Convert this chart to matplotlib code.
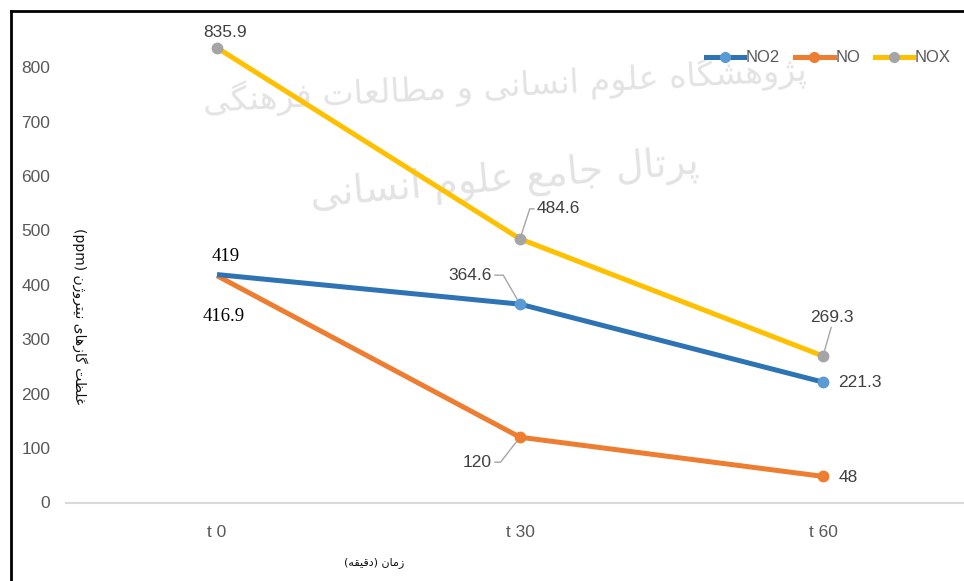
import matplotlib
matplotlib.use("Agg")
import matplotlib.pyplot as plt
from matplotlib import font_manager
from matplotlib.lines import Line2D

# ---------------- data ----------------
categories = ["t 0", "t 30", "t 60"]
no2 = [419, 364.6, 221.3]
no = [416.9, 120, 48]
nox = [835.9, 484.6, 269.3]
series_names = ["NO2", "NO", "NOX"]
y_ticks = [0, 100, 200, 300, 400, 500, 600, 700, 800]
ylabel_fa = "غلظت گازهای نیتروژن"
xlabel_fa = "زمان"
xlabel_unit_fa = "دقیقه"
watermark1 = "پژوهشگاه علوم انسانی و مطالعات فرهنگی"
watermark2 = "پرتال جامع علوم انسانی"

# ------------- simple Persian shaping (presentation forms) -------------
FORMS = {
    "ا": (0xFE8D, 0xFE8E, None, None),
    "پ": (0xFB56, 0xFB57, 0xFB58, 0xFB59),
    "ت": (0xFE95, 0xFE96, 0xFE97, 0xFE98),
    "ج": (0xFE9D, 0xFE9E, 0xFE9F, 0xFEA0),
    "د": (0xFEA9, 0xFEAA, None, None),
    "ر": (0xFEAD, 0xFEAE, None, None),
    "ز": (0xFEAF, 0xFEB0, None, None),
    "ژ": (0xFB8A, 0xFB8B, None, None),
    "س": (0xFEB1, 0xFEB2, 0xFEB3, 0xFEB4),
    "ش": (0xFEB5, 0xFEB6, 0xFEB7, 0xFEB8),
    "ط": (0xFEC1, 0xFEC2, 0xFEC3, 0xFEC4),
    "ظ": (0xFEC5, 0xFEC6, 0xFEC7, 0xFEC8),
    "ع": (0xFEC9, 0xFECA, 0xFECB, 0xFECC),
    "غ": (0xFECD, 0xFECE, 0xFECF, 0xFED0),
    "ف": (0xFED1, 0xFED2, 0xFED3, 0xFED4),
    "ق": (0xFED5, 0xFED6, 0xFED7, 0xFED8),
    "گ": (0xFB92, 0xFB93, 0xFB94, 0xFB95),
    "ل": (0xFEDD, 0xFEDE, 0xFEDF, 0xFEE0),
    "م": (0xFEE1, 0xFEE2, 0xFEE3, 0xFEE4),
    "ن": (0xFEE5, 0xFEE6, 0xFEE7, 0xFEE8),
    "ه": (0xFEE9, 0xFEEA, 0xFEEB, 0xFEEC),
    "و": (0xFEED, 0xFEEE, None, None),
    "ی": (0xFBFC, 0xFBFD, 0xFBFE, 0xFBFF),
}


def shape(text):
    out = []
    for i, ch in enumerate(text):
        if ch not in FORMS:
            out.append(ch)
            continue
        prev = text[i - 1] if i > 0 else ""
        nxt = text[i + 1] if i + 1 < len(text) else ""
        jp = prev in FORMS and FORMS[prev][2] is not None
        jn = FORMS[ch][2] is not None and nxt in FORMS
        iso, fin, ini, med = FORMS[ch]
        if jp and jn:
            cp = med
        elif jp:
            cp = fin
        elif jn:
            cp = ini
        else:
            cp = iso
        out.append(chr(cp))
    return "".join(out)


def vis(text):
    return shape(text)[::-1]


# ------------- fonts -------------
available = {f.name for f in font_manager.fontManager.ttflist}
sans = "Liberation Sans Narrow" if "Liberation Sans Narrow" in available else "Liberation Sans"
serif = "Liberation Serif"
plt.rcParams["font.family"] = [sans, "DejaVu Sans"]

W, H = 964, 581
fig = plt.figure(figsize=(W / 100, H / 100), dpi=100)


def fx(px):
    return px / W


def fy(py):
    return 1 - py / H


# axes: categories at x = 217, 520, 823 px ; 0 at y=502.5
ax = fig.add_axes([fx(65.5), fy(502.5), fx(974.5) - fx(65.5), (502.5 - 12.9) / H])
ax.set_xlim(-0.5, 2.5)
ax.set_ylim(0, 900)
ax.set_zorder(2)
ax.patch.set_visible(False)

x = list(range(len(categories)))
blue_line, blue_mk = "#2E74B5", "#5B9BD5"
orange_line, orange_mk = "#ED7D31", "#ED7D31"
gold_line, grey_mk = "#FFC000", "#A5A5A5"
lw = 3.6
ms = 7.5

ax.plot(x, no, color=orange_line, lw=lw, marker="o", ms=ms, mfc=orange_mk,
        mec=orange_mk, markevery=[1, 2], solid_capstyle="butt", zorder=3)
ax.plot(x, no2, color=blue_line, lw=lw, marker="o", ms=ms, mfc=blue_mk,
        mec=blue_mk, markevery=[1, 2], solid_capstyle="butt", zorder=3)
ax.plot(x, nox, color=gold_line, lw=lw, marker="o", ms=ms, mfc=grey_mk,
        mec=grey_mk, solid_capstyle="butt", zorder=3)

for s in ["top", "right", "left"]:
    ax.spines[s].set_visible(False)
ax.spines["bottom"].set_color("#D9D9D9")
ax.spines["bottom"].set_linewidth(1.5)
ax.set_xticks(x)
ax.set_xticklabels(categories)
ax.set_yticks(y_ticks)
ax.tick_params(axis="both", length=0, colors="#595959", labelsize=12.5)
ax.tick_params(axis="y", pad=11)
ax.tick_params(axis="x", pad=16)

lab_col = "#404040"
lab_fs = 12.5
leader = dict(arrowstyle="-", color="#A6A6A6", lw=1.0, shrinkA=0, shrinkB=4)

# NOX labels
ax.annotate(f"{nox[0]}", (0, nox[0]), xytext=(8, 15), textcoords="offset pixels",
            ha="center", va="center", color=lab_col, fontsize=lab_fs)
ax.annotate(f"{nox[1]}", (1, nox[1]), xytext=(17, 30), textcoords="offset pixels",
            ha="left", va="center", color=lab_col, fontsize=lab_fs,
            arrowprops=dict(leader, relpos=(0, 0.5),
                            connectionstyle="angle,angleA=0,angleB=72,rad=0"))
ax.annotate(f"{nox[2]}", (2, nox[2]), xytext=(9, 39), textcoords="offset pixels",
            ha="center", va="center", color=lab_col, fontsize=lab_fs,
            arrowprops=dict(leader, relpos=(0.5, 0)))
# NO2 labels
ax.annotate(f"{no2[0]:g}", (0, no2[0]), xytext=(9, 18), textcoords="offset pixels",
            ha="center", va="center", color="black", fontsize=13.5, family=serif)
ax.annotate(f"{no2[1]}", (1, no2[1]), xytext=(-28, 29), textcoords="offset pixels",
            ha="right", va="center", color=lab_col, fontsize=lab_fs,
            arrowprops=dict(leader, relpos=(1, 0.5),
                            connectionstyle="angle,angleA=0,angleB=120,rad=0"))
ax.annotate(f"{no2[2]}", (2, no2[2]), xytext=(15, 0), textcoords="offset pixels",
            ha="left", va="center", color=lab_col, fontsize=lab_fs)
# NO labels
ax.annotate(f"{no[0]}", (0, no[0]), xytext=(7, -41), textcoords="offset pixels",
            ha="center", va="center", color="black", fontsize=13.5, family=serif)
ax.annotate(f"{no[1]:g}", (1, no[1]), xytext=(-28, -25), textcoords="offset pixels",
            ha="right", va="center", color=lab_col, fontsize=lab_fs,
            arrowprops=dict(leader, relpos=(1, 0.5),
                            connectionstyle="angle,angleA=0,angleB=52,rad=0"))
ax.annotate(f"{no[2]:g}", (2, no[2]), xytext=(16, -1), textcoords="offset pixels",
            ha="left", va="center", color=lab_col, fontsize=lab_fs)

# legend
lms = 7
handles = [
    Line2D([], [], color=blue_line, lw=lw, marker="o", ms=lms, mfc=blue_mk, mec=blue_mk),
    Line2D([], [], color=orange_line, lw=lw, marker="o", ms=lms, mfc=orange_mk, mec=orange_mk),
    Line2D([], [], color=gold_line, lw=lw, marker="o", ms=lms, mfc=grey_mk, mec=grey_mk),
]
leg = fig.legend(handles, series_names, loc="center left",
                 bbox_to_anchor=(fx(706), fy(58)), ncol=3, frameon=False,
                 fontsize=12, handlelength=2.3, handletextpad=0.1,
                 columnspacing=0.9, borderpad=0, borderaxespad=0)
for t in leg.get_texts():
    t.set_color("#595959")

# axis titles (Persian)
fig.text(fx(80), fy(316), "(ppm) " + vis(ylabel_fa), rotation=-90,
         ha="center", va="center", fontsize=10, color="#111111",
         family=["DejaVu Sans"])
fig.text(fx(374), fy(563), "(" + vis(xlabel_unit_fa) + ") " + vis(xlabel_fa),
         ha="center", va="center", fontsize=8, color="#111111",
         family=["DejaVu Sans"])

# watermark
fig.text(fx(505), fy(85), vis(watermark1), rotation=3, ha="center", va="center",
         fontsize=24, color="#E3E3E3", family=["DejaVu Sans"], zorder=0)
fig.text(fx(505), fy(180), vis(watermark2), rotation=5, ha="center", va="center",
         fontsize=28, color="#E3E3E3", family=["DejaVu Sans"], zorder=0)

# outer frame (left and top edges visible)
fig.add_artist(Line2D([fx(10.5), fx(10.5)], [0, fy(10.5)], color="black", lw=2))
fig.add_artist(Line2D([fx(10.5), 1], [fy(10.5), fy(10.5)], color="black", lw=2))

fig.savefig("out.png", dpi=100)
